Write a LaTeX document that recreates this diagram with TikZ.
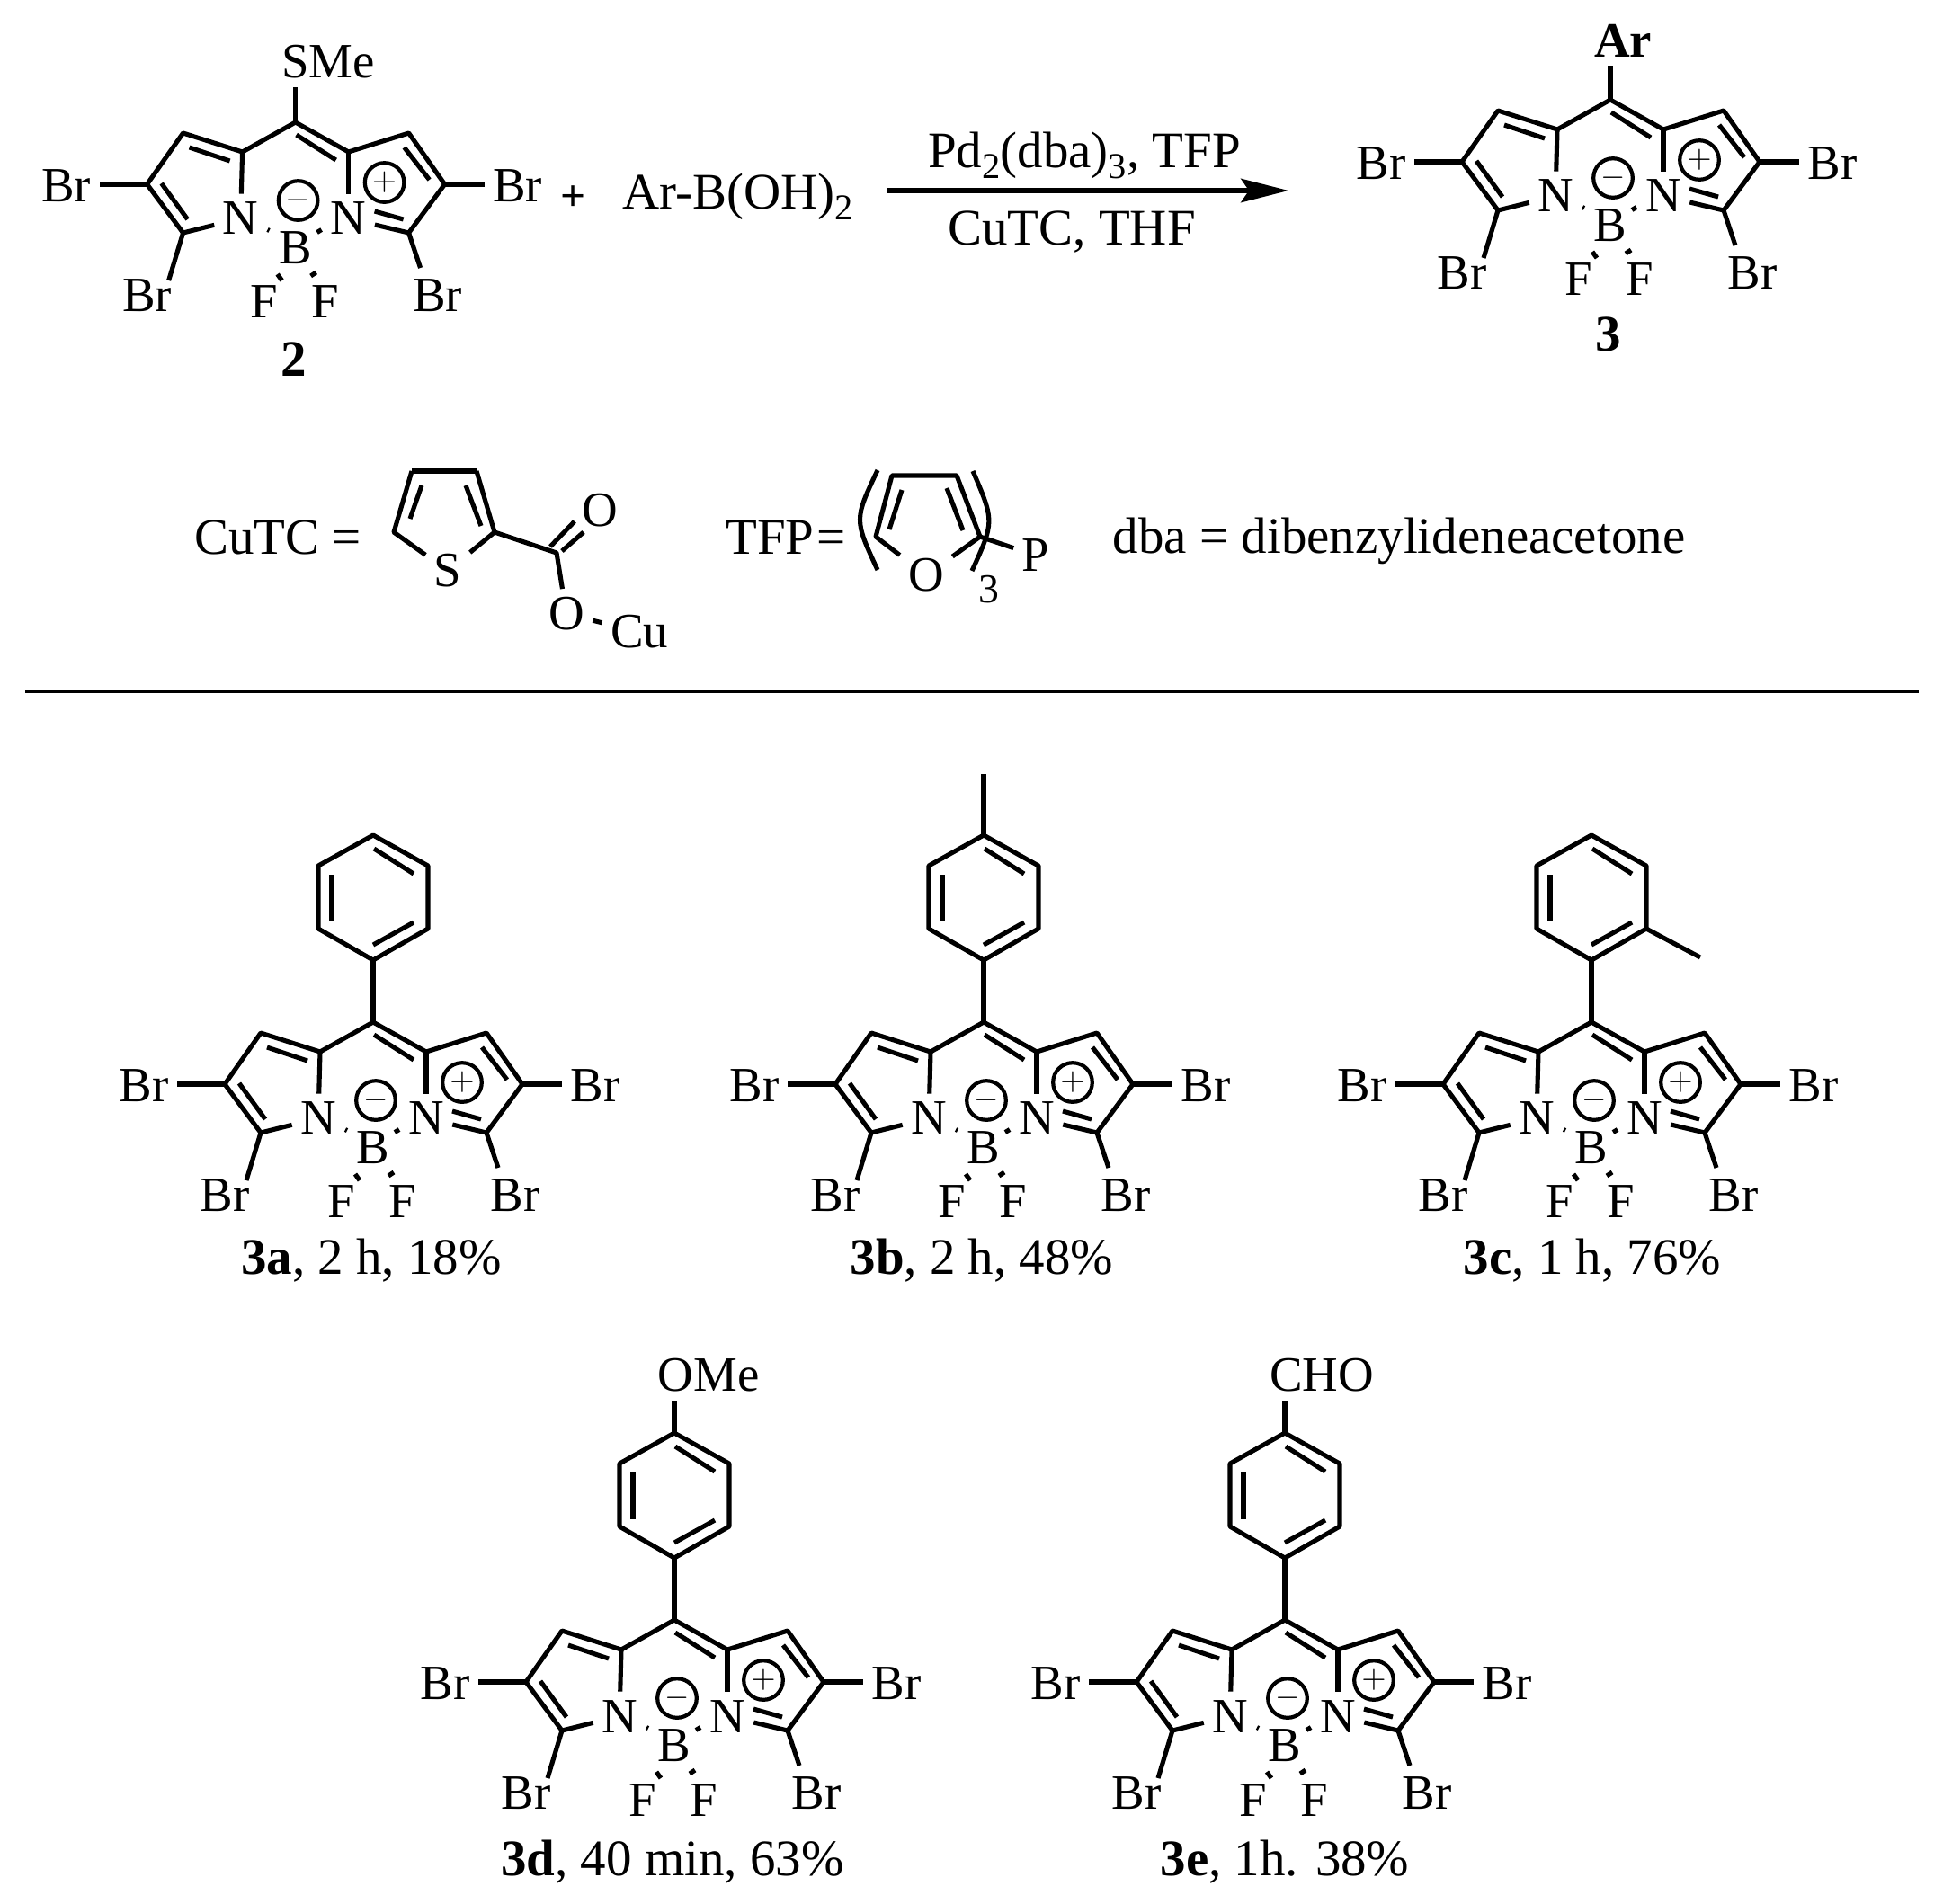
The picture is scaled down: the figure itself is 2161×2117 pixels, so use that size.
\documentclass[tikz,border=0pt]{standalone}
\usepackage{fontspec}
\setmainfont{Liberation Serif}
\usetikzlibrary{arrows.meta}
\newcommand{\subs}[1]{\raisebox{-0.45ex}{\fontsize{11.5}{12}\selectfont #1}}
\tikzset{
  bond/.style={line width=1.45pt,line join=round},
  atom/.style={inner sep=2.5pt,font=\fontsize{15.6}{17}\selectfont},
  label/.style={inner sep=0pt,font=\fontsize{16.2}{18}\selectfont},
  charge/.style={circle,draw,line width=1.2pt,inner sep=0pt,minimum size=12.4pt,font=\fontsize{10}{11}\selectfont},
}
\begin{document}
\begin{tikzpicture}[x=0.01cm,y=-0.01cm]
\useasboundingbox(0,0)rectangle(2161,2117);
% the dipyrrin core, drawn once for each compound
\foreach \n/\x/\y in {2/328.6/136,3/1791/111,3a/415/1137,3b/1094/1137,3c/1770/1137,3d/750/1802,3e/1429/1802}{
\begin{scope}[shift={(\x,\y)}]
\coordinate(m\n)at(0,0);
\coordinate(al\n)at(-59,33);
\coordinate(ar\n)at(59,33);
\coordinate(bl\n)at(-125,12);
\coordinate(br\n)at(126,12);
\coordinate(cl\n)at(-165,69);
\coordinate(cr\n)at(166,69);
\coordinate(dl\n)at(-125,123);
\coordinate(dr\n)at(126,123);
\coordinate(el\n)at(-141,176);
\coordinate(er\n)at(139,162);
\node[atom](Nl\n)at(-61,107){N};
\node[atom](Nr\n)at(59,107){N};
\node[atom](B\n)at(0,140){B};
\node[atom](Fl\n)at(-35,200){F};
\node[atom](Fr\n)at(33,200){F};
\node[atom](Brl\n)at(-255,71){Br};
\node[atom](Brr\n)at(247,71){Br};
\node[atom](Brdl\n)at(-165,193){Br};
\node[atom](Brdr\n)at(158,193){Br};
\node[charge](minus\n)at(3,87){$-$};
\node[charge](plus\n)at(99,67){$+$};
\draw[bond](m\n)--(al\n)--(bl\n)--(cl\n)--(dl\n)--(Nl\n);
\draw[bond](m\n)--(ar\n)--(br\n)--(cr\n)--(dr\n)--(Nr\n);
\draw[bond](al\n)--(Nl\n);
\draw[bond](ar\n)--(Nr\n);
\draw[bond](dl\n)--(el\n);
\draw[bond](dr\n)--(er\n);
\draw[bond](cl\n)--(cl\n-|Brl\n.east);
\draw[bond](cr\n)--(cr\n-|Brr\n.west);
% inner lines of the double bonds, dots and hashes
\foreach \a/\b/\c/\d in {-118/28/-73/43,-149/68/-120/108,1/14/45/42,121/28/149/64,88/99/120/108,-31/119.5/-29/120.5,24/122.5/29/119.5,-20/169/-15/176,17/171/23/167}
  \draw[bond](\a,\b)--(\c,\d);
\end{scope}}
% the aryl rings
\foreach \n/\x/\y in {3a/415/1137,3b/1094/1137,3c/1770/1137,3d/750/1802,3e/1429/1802}{
\begin{scope}[shift={(\x,\y)}]
\coordinate(ra\n)at(0,-69);
\coordinate(rb\n)at(61,-104);
\coordinate(rc\n)at(61,-174);
\coordinate(rd\n)at(0,-208);
\coordinate(re\n)at(-61,-174);
\coordinate(rf\n)at(-61,-104);
\draw[bond](m\n)--(ra\n);
\draw[bond](ra\n)--(rb\n)--(rc\n)--(rd\n)--(re\n)--(rf\n)--cycle;
\foreach \a/\b/\c/\d in {1/-193/45/-165,-46/-164/-46/-112,0/-86/45/-111}
  \draw[bond](\a,\b)--(\c,\d);
\end{scope}}
\coordinate(meb)at(1094,861);
\draw[bond](rd3b)--(meb);
\coordinate(mec)at(1891,1065);
\draw[bond](rb3c)--(mec);
\node[atom](ome)at(788,1530){OMe};
\draw[bond](rd3d)--(rd3d|-ome.south);
\node[atom](cho)at(1470,1530){CHO};
\draw[bond](rd3e)--(rd3e|-cho.south);
% top line
\node[atom](sme)at(365,69){SMe};
\draw[bond](m2)--(m2|-sme.south);
\node[atom,font=\fontsize{15.6}{17}\selectfont\bfseries](ar)at(1805,45){Ar};
\draw[bond](m3)--(m3|-ar.south);
\node[label](n2)at(327,400){\textbf{2}};
\node[label](n3)at(1789,372){\textbf{3}};
\node[label,font=\fontsize{14}{16}\selectfont](plusb)at(638,221){\textbf{+}};
\node[label](boron)at(821,219){Ar-B(OH)\subs{2}};
\coordinate(arra)at(987,212);
\coordinate(arrb)at(1433,212);
\draw[bond,-{Stealth[length=15pt,width=7.5pt,inset=2.5pt]}](arra)--(arrb);
\node[label](cata)at(1206,173){Pd\subs{2}(dba)\subs{3}, TFP};
\node[label](catb)at(1192,258){CuTC, THF};
% legend line
\node[label](cutc)at(309,598){CuTC =};
\coordinate(ta)at(458,524);
\coordinate(tb)at(530,524);
\coordinate(tc)at(550,592);
\coordinate(td)at(438,592);
\node[atom](sulf)at(498,635){S};
\draw[bond](sulf)--(td)--(ta);
\draw[bond,line width=1.9pt](ta)--(tb);
\draw[bond](tb)--(tc)--(sulf);
\draw[bond](469,540)--(456,577);
\draw[bond](518,540)--(535,585);
\coordinate(tco)at(619,615);
\node[atom](oa)at(667,568){O};
\node[atom](ob)at(630,683){O};
\node[atom](cu)at(711,703){Cu};
\draw[bond](tc)--(tco)--(ob);
\draw[bond](612,608)--(639,580);
\draw[bond](625,613)--(649,592);
\draw[bond](ob)--(cu);
\node[label](tfp)at(874,598){\spaceskip=0.05em TFP =};
\coordinate(fa)at(992,529);
\coordinate(fb)at(1064,529);
\coordinate(fc)at(1090,597);
\coordinate(fd)at(974,597);
\node[atom](oxy)at(1030,640){O};
\node[atom](phos)at(1152,618){P};
\draw[bond](oxy)--(fd)--(fa)--(fb)--(fc)--(oxy);
\draw[bond](1003,545)--(989,589);
\draw[bond](1053,543)--(1071,590);
\draw[bond](fc)--(phos);
\draw[bond](976,523)..controls(950,578)..(976,634);
\draw[bond](1082,524)..controls(1106,580)..(1081,635);
\node[inner sep=0pt,font=\fontsize{13}{14}\selectfont](three)at(1100,656){3};
\node[label](dba)at(1556,602){dba = dibenzylideneacetone};
\coordinate(rulea)at(28,769);
\coordinate(ruleb)at(2134,769);
\draw[line width=1.4pt](rulea)--(ruleb);
% yields
\node[label](ya)at(413,1402){\textbf{3a}, 2 h, 18\%};
\node[label](yb)at(1092,1402){\textbf{3b}, 2 h, 48\%};
\node[label](yc)at(1771,1402){\textbf{3c}, 1 h, 76\%};
\node[label](yd)at(748,2071){\textbf{3d}, 40 min, 63\%};
\node[label](ye)at(1429,2071){\textbf{3e}, 1h. 38\%};
\end{tikzpicture}
\end{document}
